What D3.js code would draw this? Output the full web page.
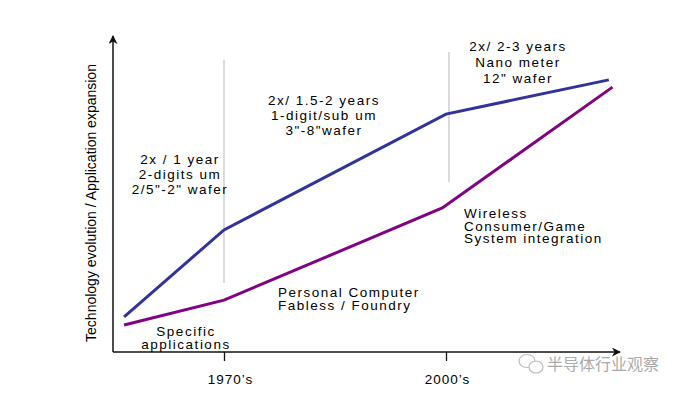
<!DOCTYPE html>
<html>
<head>
<meta charset="utf-8">
<script src="https://cdn.jsdelivr.net/npm/d3@7"></script>
<style>
  body { margin: 0; background: #fff; }
  svg text { font-family: "Liberation Sans", Arial, sans-serif; fill: #000; }
</style>
</head>
<body>
<svg id="chart" width="687" height="394"></svg>
<script>
// data (x in years, y in relative units)
var years = [1956.5, 1970, 2000, 2022];
var techValues = [11.7, 40.7, 79.3, 90.7];
var appYears = [1956.5, 1970, 1999.5, 2022.5];
var appValues = [9, 17.3, 48, 88.3];
var tickYears = [1970, 2000];
var tickLabels = ["1970\u2019s", "2000\u2019s"];
var dividerYears = [1970, 2000.4];
var techNotes = [
    ["2x / 1 year", "2-digits um", "2/5\"-2\" wafer"],
    ["2x/ 1.5-2 years", "1-digit/sub um", "3\"-8\"wafer"],
    ["2x/ 2-3 years", "Nano meter", "12\" wafer"]
];
var appNotes = [
    ["Specific", "applications"],
    ["Personal Computer", "Fabless / Foundry"],
    ["Wireless", "Consumer/Game", "System integration"]
];

var svg = d3.select("#chart");

// scales
var x = d3.scaleLinear().domain([1970, 2000]).range([224, 446]);
var y = d3.scaleLinear().domain([0, 100]).range([352, 52]);

// arrow marker
svg.append("defs").append("marker")
    .attr("id", "arrow")
    .attr("viewBox", "0 0 10 10")
    .attr("refX", 9).attr("refY", 5)
    .attr("markerWidth", 9).attr("markerHeight", 9)
    .attr("markerUnits", "userSpaceOnUse")
    .attr("orient", "auto")
    .append("path")
    .attr("d", "M0,0 L10,5 L0,10 L3,5 Z")
    .attr("fill", "#111");

// vertical dividers
svg.selectAll(".divider")
    .data(dividerYears)
    .enter().append("line")
    .attr("class", "divider")
    .attr("x1", function(d) { return x(d); })
    .attr("x2", function(d) { return x(d); })
    .attr("y1", function(d, i) { return i == 0 ? 60 : 52; })
    .attr("y2", function(d, i) { return i == 0 ? 283 : 182; })
    .attr("stroke", "#c8c8c8")
    .attr("stroke-width", 1.3);

// axes lines with arrows
svg.append("line")
    .attr("x1", 113).attr("y1", y(0))
    .attr("x2", 113).attr("y2", 36)
    .attr("stroke", "#111").attr("stroke-width", 1.5)
    .attr("marker-end", "url(#arrow)");

svg.append("line")
    .attr("x1", 113).attr("y1", y(0))
    .attr("x2", 620).attr("y2", y(0))
    .attr("stroke", "#111").attr("stroke-width", 1.5)
    .attr("marker-end", "url(#arrow)");

// x ticks
var xAxis = d3.axisBottom(x)
    .tickValues(tickYears)
    .tickFormat(function(d, i) { return tickLabels[i]; })
    .tickSize(9)
    .tickPadding(13);

var gx = svg.append("g")
    .attr("transform", "translate(0," + y(0) + ")")
    .call(xAxis);
gx.select(".domain").remove();
gx.selectAll(".tick line").attr("stroke", "#111").attr("stroke-width", 1.3);
gx.selectAll(".tick text")
    .attr("font-size", 13.5)
    .attr("letter-spacing", "1px")
    .attr("dx", function(d, i) { return i == 0 ? 6 : 1; })
    .style("font-family", "'Liberation Sans', Arial, sans-serif")
    .attr("fill", "#000");

// y label
svg.append("text")
    .attr("transform", "translate(96,203) rotate(-90)")
    .attr("text-anchor", "middle")
    .attr("font-size", 14)
    .text("Technology evolution / Application expansion");

// lines
var line = d3.line()
    .x(function(d) { return x(d[0]); })
    .y(function(d) { return y(d[1]); });

svg.append("path")
    .datum(d3.zip(years, techValues))
    .attr("d", line)
    .attr("fill", "none")
    .attr("stroke", "#33339a")
    .attr("stroke-width", 3);

svg.append("path")
    .datum(d3.zip(appYears, appValues))
    .attr("d", line)
    .attr("fill", "none")
    .attr("stroke", "#800482")
    .attr("stroke-width", 3);

// multi-line notes
function drawNote(lines, px, py, anchor, step) {
    var t = svg.append("text")
        .attr("font-size", 13.5)
        .attr("letter-spacing", "1.5px")
        .attr("text-anchor", anchor);
    lines.forEach(function(s, i) {
        t.append("tspan")
            .attr("x", px)
            .attr("y", py + i * step)
            .text(s);
    });
}

drawNote(techNotes[0], 180, 164, "middle", 15);
drawNote(techNotes[1], 324, 105, "middle", 15);
drawNote(techNotes[2], 518, 51, "middle", 16);

drawNote(appNotes[0], 186, 336, "middle", 13);
drawNote(appNotes[1], 278, 297, "start", 13);
drawNote(appNotes[2], 464, 218, "start", 12.5);

// watermark
var wm = svg.append("g").attr("opacity", 0.55);
wm.append("ellipse").attr("cx", 527).attr("cy", 361).attr("rx", 8).attr("ry", 6.5)
    .attr("fill", "none").attr("stroke", "#888").attr("stroke-width", 1.2);
wm.append("ellipse").attr("cx", 536).attr("cy", 367).attr("rx", 7).attr("ry", 6)
    .attr("fill", "#fff").attr("stroke", "#888").attr("stroke-width", 1.2);
wm.append("text")
    .attr("x", 547).attr("y", 370)
    .attr("font-size", 16)
    .style("font-family", "'Noto Sans CJK SC', sans-serif")
    .style("fill", "#666")
    .text("半导体行业观察");
</script>
</body>
</html>
